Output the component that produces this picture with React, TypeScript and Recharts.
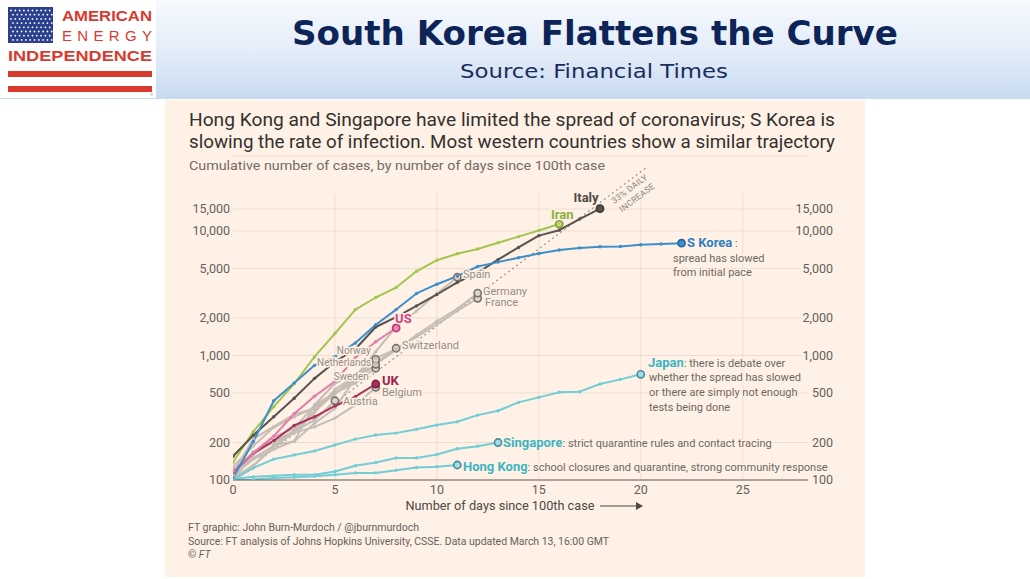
import React from "react";
import {
  ComposedChart,
  Line,
  XAxis,
  YAxis,
  CartesianGrid,
  ReferenceLine,
  ReferenceDot,
} from "recharts";

// ---------------- data ----------------
const dayTicks = [0, 5, 10, 15, 20, 25];
const caseTicks = [100, 200, 500, 1000, 2000, 5000, 10000, 15000];
const gridTopCases = 20000;

const italyCases = [155, 229, 322, 453, 655, 888, 1128, 1694, 2036, 2502, 3089, 3858, 4636, 5883, 7375, 9172, 10149, 12462, 15113];
const iranCases = [139, 245, 388, 593, 978, 1501, 2336, 2922, 3513, 4747, 5823, 6566, 7161, 8042, 9000, 10075, 11364];
const sKoreaCases = [104, 204, 433, 602, 833, 977, 1261, 1766, 2337, 3150, 3736, 4335, 5186, 5621, 6088, 6593, 7041, 7314, 7478, 7513, 7755, 7869, 7979];
const japanCases = [100, 125, 147, 159, 171, 191, 213, 230, 238, 256, 276, 294, 332, 360, 420, 461, 506, 512, 590, 643, 706];
const singaporeCases = [102, 106, 108, 110, 110, 117, 130, 138, 150, 150, 160, 178, 187, 200];
const hongKongCases = [100, 101, 104, 105, 107, 110, 114, 114, 120, 126, 128, 132];
const usCases = [118, 165, 225, 340, 470, 620, 960, 1290, 1663];
const ukCases = [116, 164, 207, 274, 322, 393, 467, 590];
const spainCases = [120, 165, 222, 259, 400, 500, 673, 1073, 1695, 2277, 3146, 4250];
const germanyCases = [117, 150, 188, 240, 349, 534, 684, 847, 1112, 1460, 1884, 2369, 3170];
const franceCases = [100, 130, 191, 204, 285, 377, 653, 949, 1126, 1412, 1784, 2281, 2880];
const switzerlandCases = [114, 214, 268, 337, 374, 491, 652, 870, 1143];
const norwayCases = [108, 147, 176, 205, 400, 598, 702, 930];
const netherlandsCases = [128, 188, 265, 321, 382, 503, 614, 850];
const swedenCases = [101, 161, 203, 248, 355, 500, 599, 790];
const belgiumCases = [109, 169, 200, 239, 267, 314, 399, 555];
const austriaCases = [104, 131, 182, 246, 302, 433];

const rateDays = [0, 20.35];
const rateCases = [100, 33000];
const rateLabel = ["33% DAILY", "INCREASE"];

const sKoreaNote = [" :", "spread has slowed", "from initial pace"];
const japanNote = [": there is debate over", "whether the spread has slowed", "or there are simply not enough", "tests being done"];
const singaporeNote = [": strict quarantine rules and contact tracing"];
const hongKongNote = [": school closures and quarantine, strong community response"];

// ---------------- styles ----------------
const FONT = "Roboto, 'Open Sans', sans-serif";
const TITLE_FONT = "'DejaVu Sans Condensed', 'DejaVu Sans', sans-serif";
const PAPER = "#FFF1E5";
const GRID = "#eaded2";
const AXIS = "#66605c";
const NOTE = "#6e6761";
const GREY_LABEL = "#958d86";

type Style = { line: string; ring: string; fill: string; label: string; width: number; bold: boolean };
const GREY: Style = { line: "#c6bdb5", ring: "#77706a", fill: "#ddd4cc", label: GREY_LABEL, width: 2, bold: false };
const CYAN: Style = { line: "#72cdd6", ring: "#3f8d9b", fill: "#a3dde3", label: "#3cb5c0", width: 2, bold: true };
const styles: Record<string, Style> = {
  iran: { line: "#a4c552", ring: "#7f9b36", fill: "#bcd670", label: "#8eae3a", width: 2, bold: true },
  italy: { line: "#58534f", ring: "#3b3835", fill: "#58534f", label: "#4d4845", width: 2, bold: true },
  sKorea: { line: "#3d8ec9", ring: "#25679a", fill: "#3d8ec9", label: "#2f80bd", width: 2, bold: true },
  us: { line: "#e67aa7", ring: "#c8306f", fill: "#e98ab2", label: "#d6407f", width: 2, bold: true },
  uk: { line: "#a8305a", ring: "#7d1c3f", fill: "#a8305a", label: "#9b2450", width: 2, bold: true },
  japan: CYAN,
  singapore: CYAN,
  hongKong: CYAN,
};

type Layout = { dx: number; dy: number; anchor: "start" | "middle" | "end"; size?: number; noteDx?: number; noteDy?: number[] };
const layouts: Record<string, Layout> = {
  italy: { dx: -14, dy: -7, anchor: "middle" },
  iran: { dx: 3, dy: -5.5, anchor: "middle" },
  sKorea: { dx: 5.4, dy: 3.6, anchor: "start", noteDx: -8.6, noteDy: [18.8, 32.8] },
  spain: { dx: 5.7, dy: 0.9, anchor: "start" },
  germany: { dx: 5.3, dy: 1.9, anchor: "start" },
  france: { dx: 7.3, dy: 7.7, anchor: "start" },
  us: { dx: -1, dy: -5.4, anchor: "start" },
  switzerland: { dx: 6, dy: 0.9, anchor: "start" },
  norway: { dx: -5, dy: -5, anchor: "end", size: 10 },
  netherlands: { dx: -4.5, dy: 2.2, anchor: "end", size: 10 },
  sweden: { dx: -7, dy: 11.3, anchor: "end", size: 10 },
  uk: { dx: 6.3, dy: 0.8, anchor: "start" },
  belgium: { dx: 6.3, dy: 8.7, anchor: "start" },
  austria: { dx: 8, dy: 4.2, anchor: "start" },
  japan: { dx: 7.2, dy: -7.3, anchor: "start", noteDx: 8.2, noteDy: [6.7, 21.7, 36.7] },
  singapore: { dx: 5, dy: 4.1, anchor: "start" },
  hongKong: { dx: 5.7, dy: 5.6, anchor: "start" },
};

type Series = { id: string; name: string; values: number[]; note?: string[] };
const series: Series[] = [
  { id: "austria", name: "Austria", values: austriaCases },
  { id: "belgium", name: "Belgium", values: belgiumCases },
  { id: "sweden", name: "Sweden", values: swedenCases },
  { id: "netherlands", name: "Netherlands", values: netherlandsCases },
  { id: "norway", name: "Norway", values: norwayCases },
  { id: "switzerland", name: "Switzerland", values: switzerlandCases },
  { id: "france", name: "France", values: franceCases },
  { id: "germany", name: "Germany", values: germanyCases },
  { id: "spain", name: "Spain", values: spainCases },
  { id: "hongKong", name: "Hong Kong", values: hongKongCases, note: hongKongNote },
  { id: "singapore", name: "Singapore", values: singaporeCases, note: singaporeNote },
  { id: "japan", name: "Japan", values: japanCases, note: japanNote },
  { id: "uk", name: "UK", values: ukCases },
  { id: "us", name: "US", values: usCases },
  { id: "iran", name: "Iran", values: iranCases },
  { id: "italy", name: "Italy", values: italyCases },
  { id: "sKorea", name: "S Korea", values: sKoreaCases, note: sKoreaNote },
];

const styleOf = (id: string) => styles[id] || GREY;
const toPoints = (values: number[]) => values.map((v, i) => ({ day: i, cases: v }));
const fmt = (v: number) => v.toLocaleString("en-US");

const halo = { stroke: PAPER, strokeWidth: 3, paintOrder: "stroke" as const, strokeLinejoin: "round" as const };

const makeDot = (s: Series) => (props: any) => {
  const { cx, cy, index } = props;
  const st = styleOf(s.id);
  const key = `${s.id}-dot-${index}`;
  if (cx == null || cy == null) return <g key={key} />;
  if (index === s.values.length - 1) {
    return <circle key={key} cx={cx} cy={cy} r={3.6} fill={st.fill} stroke={st.ring} strokeWidth={1.6} />;
  }
  return <circle key={key} cx={cx} cy={cy} r={1.7} fill={st.line} stroke="none" />;
};

function Annotation({ cx, cy, s }: { cx: number; cy: number; s: Series }) {
  const st = styleOf(s.id);
  const lay = layouts[s.id];
  if (cx == null || cy == null || !lay) return <g />;
  const note = s.note || [];
  const rest = note.slice(1);
  return (
    <g>
      <text
        x={cx + lay.dx}
        y={cy + lay.dy}
        textAnchor={lay.anchor}
        fontFamily={FONT}
        fontSize={lay.size || (st.bold ? 13 : 11)}
        fontWeight={st.bold ? 700 : 400}
        fill={st.label}
        {...halo}
      >
        {s.name}
        {note.length > 0 && (
          <tspan fontWeight={400} fontSize={11} fill={NOTE}>
            {note[0]}
          </tspan>
        )}
      </text>
      {rest.map((line, i) => (
        <text
          key={i}
          x={cx + (lay.noteDx || 0)}
          y={cy + (lay.noteDy ? lay.noteDy[i] : 0)}
          fontFamily={FONT}
          fontSize={11}
          fill={NOTE}
          {...halo}
        >
          {line}
        </text>
      ))}
    </g>
  );
}

function RateLabel({ cx, cy }: { cx: number; cy: number }) {
  if (cx == null || cy == null) return <g />;
  const pos = [
    [-18, 23],
    [-10.5, 31.7],
  ];
  return (
    <g>
      {rateLabel.map((t, i) => {
        const x = cx + pos[i][0];
        const y = cy + pos[i][1];
        return (
          <text
            key={i}
            x={x}
            y={y}
            textAnchor="middle"
            dominantBaseline="middle"
            transform={`rotate(-37 ${x} ${y})`}
            fontFamily={FONT}
            fontSize={8.5}
            fill="#8d857e"
            letterSpacing={0.3}
          >
            {t}
          </text>
        );
      })}
    </g>
  );
}

const RightTick = (props: any) => {
  const { x, y, payload } = props;
  return (
    <text
      x={x + 25}
      y={y}
      dy={4.4}
      textAnchor="end"
      fontFamily={FONT}
      fontSize={12.5}
      fill={AXIS}
      stroke={PAPER}
      strokeWidth={5}
      paintOrder="stroke"
    >
      {fmt(payload.value)}
    </text>
  );
};

function Background() {
  const stars: JSX.Element[] = [];
  for (let r = 0; r < 8; r++) {
    for (let c = 0; c < 10; c++) {
      stars.push(<circle key={`${r}-${c}`} cx={11 + c * 4.3 + (r % 2) * 2} cy={10.5 + r * 4.2} r={0.9} fill="#ffffff" />);
    }
  }
  return (
    <svg width={1030} height={579} style={{ position: "absolute", left: 0, top: 0 }}>
      <defs>
        <linearGradient id="hdr" x1="0" y1="0" x2="0" y2="1">
          <stop offset="0" stopColor="#f6f9fd" />
          <stop offset="0.55" stopColor="#e2ecf8" />
          <stop offset="1" stopColor="#c7daf1" />
        </linearGradient>
      </defs>
      <rect x={0} y={0} width={1030} height={579} fill="#ffffff" />
      <rect x={0} y={0} width={1030} height={99} fill="url(#hdr)" />
      {/* logo */}
      <rect x={0} y={0} width={156} height={98} fill="#ffffff" />
      <rect x={8} y={7} width={45} height={36} fill="#2b3f8f" />
      {stars}
      <text x={62} y={21} fontFamily="'Liberation Sans', Arial, sans-serif" fontWeight={700} fontSize={15} fill="#d83a2e" textLength={90} lengthAdjust="spacingAndGlyphs">
        AMERICAN
      </text>
      <text x={62} y={41} fontFamily="'Liberation Sans', Arial, sans-serif" fontWeight={400} fontSize={15} fill="#d83a2e" textLength={90} lengthAdjust="spacing">
        ENERGY
      </text>
      <text x={8} y={61} fontFamily="'Liberation Sans', Arial, sans-serif" fontWeight={700} fontSize={15} fill="#d83a2e" textLength={144} lengthAdjust="spacingAndGlyphs">
        INDEPENDENCE
      </text>
      <rect x={8} y={71} width={144} height={6} fill="#d83a2e" />
      <rect x={8} y={86} width={144} height={6} fill="#d83a2e" />
      <text x={150} y={96} fontFamily="Arial, sans-serif" fontSize={4} fill="#666">®</text>
      {/* title */}
      <text x={292} y={45} fontFamily={TITLE_FONT} fontWeight={700} fontSize={33} fill="#0d2458" textLength={606} lengthAdjust="spacingAndGlyphs">
        South Korea Flattens the Curve
      </text>
      <text x={460} y={77.7} fontFamily={TITLE_FONT} fontSize={19} fill="#1b2d5e" textLength={268} lengthAdjust="spacingAndGlyphs">
        Source: Financial Times
      </text>
      {/* FT panel */}
      <rect x={165} y={100} width={700} height={477} fill={PAPER} />
      <text x={189} y={125.7} fontFamily={FONT} fontSize={17.5} fill="#33302e" textLength={646} lengthAdjust="spacingAndGlyphs">
        Hong Kong and Singapore have limited the spread of coronavirus; S Korea is
      </text>
      <text x={189} y={148.3} fontFamily={FONT} fontSize={17.5} fill="#33302e" textLength={646} lengthAdjust="spacingAndGlyphs">
        slowing the rate of infection. Most western countries show a similar trajectory
      </text>
      <text x={189} y={170} fontFamily={FONT} fontSize={13.3} fill="#736b65" textLength={416} lengthAdjust="spacingAndGlyphs">
        Cumulative number of cases, by number of days since 100th case
      </text>
      {/* axis title */}
      <text x={405.5} y={510} fontFamily={FONT} fontSize={13} fill="#4d4845" textLength={189} lengthAdjust="spacingAndGlyphs">
        Number of days since 100th case
      </text>
      <line x1={600} y1={506} x2={637} y2={506} stroke="#4d4845" strokeWidth={1.2} />
      <path d="M636,502 L643,506 L636,510 Z" fill="#4d4845" />
      {/* footer */}
      <text x={188} y={531} fontFamily={FONT} fontSize={10.5} fill="#66605c" textLength={231} lengthAdjust="spacingAndGlyphs">
        FT graphic: John Burn-Murdoch / @jburnmurdoch
      </text>
      <text x={188} y={544.5} fontFamily={FONT} fontSize={10.5} fill="#66605c" textLength={421} lengthAdjust="spacingAndGlyphs">
        Source: FT analysis of Johns Hopkins University, CSSE. Data updated March 13, 16:00 GMT
      </text>
      <text x={188} y={557.5} fontFamily={FONT} fontSize={10.5} fill="#66605c">
        © <tspan fontStyle="italic">FT</tspan>
      </text>
    </svg>
  );
}

export default function App() {
  return (
    <div style={{ position: "absolute", left: 0, top: 0, width: 1030, height: 579, overflow: "hidden", background: "#fff" }}>
      <Background />
      <div style={{ position: "absolute", left: 0, top: 0 }}>
        <ComposedChart width={1030} height={579} margin={{ top: 156, right: 0, bottom: 0, left: 0 }}>
          <CartesianGrid vertical={false} stroke={GRID} strokeWidth={1} />
          {dayTicks
            .filter((d) => d > 0)
            .map((d) => (
              <ReferenceLine
                key={`v${d}`}
                segment={[
                  { x: d, y: caseTicks[0] },
                  { x: d, y: gridTopCases },
                ]}
                stroke={GRID}
                strokeWidth={1}
                ifOverflow="visible"
              />
            ))}
          <XAxis
            type="number"
            dataKey="day"
            domain={[0, 28.2]}
            allowDataOverflow
            ticks={dayTicks}
            interval={0}
            tickLine={false}
            tickSize={0}
            tickMargin={5}
            axisLine={{ stroke: AXIS, strokeWidth: 1 }}
            height={99}
            tick={{ fill: AXIS, fontSize: 12.5, fontFamily: FONT }}
          />
          <YAxis
            scale="log"
            domain={[100, 40000]}
            allowDataOverflow
            ticks={caseTicks}
            interval={0}
            tickFormatter={fmt}
            width={233}
            axisLine={false}
            tickLine={false}
            tickSize={0}
            tickMargin={3}
            tick={{ fill: AXIS, fontSize: 12.5, fontFamily: FONT }}
          />
          <YAxis
            yAxisId="r"
            orientation="right"
            scale="log"
            domain={[100, 40000]}
            allowDataOverflow
            ticks={caseTicks}
            interval={0}
            width={222}
            axisLine={false}
            tickLine={false}
            tickSize={0}
            tickMargin={0}
            tick={<RightTick />}
          />
          <Line
            data={rateDays.map((d, i) => ({ day: d, cases: rateCases[i] }))}
            dataKey="cases"
            type="linear"
            stroke="#9d958e"
            strokeWidth={1.2}
            strokeDasharray="2 3"
            dot={false}
            activeDot={false}
            isAnimationActive={false}
          />
          {series.map((s) => {
            const st = styleOf(s.id);
            return (
              <Line
                key={s.id}
                data={toPoints(s.values)}
                dataKey="cases"
                type="linear"
                stroke={st.line}
                strokeWidth={st.width}
                strokeLinejoin="round"
                dot={makeDot(s)}
                activeDot={false}
                isAnimationActive={false}
              />
            );
          })}
          <ReferenceDot
            x={rateDays[rateDays.length - 1]}
            y={rateCases[rateCases.length - 1]}
            r={0}
            ifOverflow="visible"
            shape={(p: any) => <RateLabel cx={p.cx} cy={p.cy} />}
          />
          {series.map((s) => (
            <ReferenceDot
              key={`lab-${s.id}`}
              x={s.values.length - 1}
              y={s.values[s.values.length - 1]}
              r={0}
              ifOverflow="visible"
              shape={(p: any) => <Annotation cx={p.cx} cy={p.cy} s={s} />}
            />
          ))}
        </ComposedChart>
      </div>
    </div>
  );
}
